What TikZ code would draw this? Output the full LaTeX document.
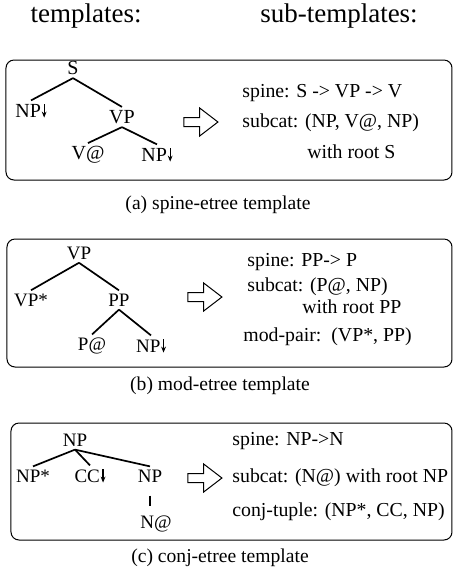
\documentclass[tikz,border=0pt]{standalone}
\usepackage{fontspec}
\setmainfont{Liberation Serif}
\usepackage{tikz}
\usetikzlibrary{arrows.meta, positioning, shapes, shapes.arrows, calc}

\newcommand{\substarr}{\kern0.4pt\tikz[baseline=0pt]\draw[line width=0.6pt,
  -{Stealth[length=3pt, width=2.4pt]}] (0pt,6.6pt) -- (0pt,0pt);}

\begin{document}
\begin{tikzpicture}[
  x=0.5pt, y=-0.5pt,
  cat/.style={inner sep=1.5pt, font=\fontsize{9.5}{11}\selectfont},
  info/.style={anchor=west, inner sep=0pt, font=\fontsize{9.9}{12}\selectfont},
  capt/.style={font=\fontsize{9.8}{12}\selectfont},
  heading/.style={font=\fontsize{13.5}{16}\selectfont},
  panel/.style={draw, rounded corners=4pt, line width=0.5pt},
  branch/.style={line width=0.85pt},
  fatarr/.style={single arrow, draw, line width=0.5pt, inner sep=2pt,
                 minimum height=17pt, single arrow head extend=4.75pt,
                 single arrow tip angle=75},
]

%% Frame
\useasboundingbox (0,0) rectangle (454,570);

%% Headings
\node[heading] (H1) at (86,16)  {templates:};
\node[heading] (H2) at (339,16) {sub-templates:};

%% (a) spine-etree
\draw[panel] (6,60) rectangle (452,180);
\node[cat, font=\fontsize{10}{12}\selectfont] (S)   at (73,68)   {S};
\node[cat, font=\fontsize{10}{12}\selectfont] (NPa) at (31,111)  {NP\substarr};
\node[cat, font=\fontsize{10}{12}\selectfont] (VPa) at (122,117) {VP};
\node[cat, font=\fontsize{10}{12}\selectfont] (Va)  at (88,155)  {V@};
\node[cat, font=\fontsize{10}{12}\selectfont] (NPb) at (157,155) {NP\substarr};
\draw[branch] (S.south) -- (NPa.north);
\draw[branch] (S.south) -- (VPa.north);
\draw[branch] (VPa.south) -- (Va.north);
\draw[branch] (VPa.south) -- (NPb.north);
\node[fatarr] (A1) at (198,122) {};
\node[info] (a1) at (242,93)  {spine: S -> VP -> V};
\node[info] (a2) at (242,123) {subcat: (NP, V@, NP)};
\node[info] (a3) at (307,152) {with root S};
\node[capt] (Ca) at (218,205) {(a) spine-etree template};

%% (b) mod-etree
\draw[panel] (7,239) rectangle (452,367);
\node[cat] (VPb) at (79,253)  {VP};
\node[cat] (VPs) at (31,300)  {VP*};
\node[cat] (PP)  at (119,300) {PP};
\node[cat] (Pat) at (92,346)  {P@};
\node[cat] (NPc) at (151,346) {NP\substarr};
\draw[branch] (VPb.south) -- (VPs.north);
\draw[branch] (VPb.south) -- (PP.north);
\draw[branch] (PP.south) -- (Pat.north);
\draw[branch] (PP.south) -- (NPc.north);
\node[fatarr] (A2) at (202,297) {};
\node[info] (b1) at (247,262) {spine: PP-> P};
\node[info] (b2) at (247,287) {subcat: (P@, NP)};
\node[info] (b3) at (302,307) {with root PP};
\node[info] (b4) at (243,337) {mod-pair:\ \ (VP*, PP)};
\node[capt] (Cb) at (220,386) {(b) mod-etree template};

%% (c) conj-etree
\draw[panel] (11,423) rectangle (452,540);
\node[cat] (NPd) at (75,440)  {NP};
\node[cat] (NPs) at (33,476)  {NP*};
\node[cat] (CC)  at (90,476)  {CC\substarr};
\node[cat] (NPe) at (150,476) {NP};
\node[cat] (Nat) at (156,524) {N@};
\draw[branch] (NPd.south) -- (NPs.north);
\draw[branch] (NPd.south) -- (CC.north);
\draw[branch] (NPd.south) -- (NPe.north);
\draw[branch, shorten <=5pt, shorten >=3pt] (NPe.south) -- (NPe.south |- Nat.north);
\node[fatarr] (A3) at (202,478) {};
\node[info] (c1) at (232,441) {spine: NP->N};
\node[info] (c2) at (232,478) {subcat: (N@) with root NP};
\node[info] (c3) at (232,512) {conj-tuple: (NP*, CC, NP)};
\node[capt] (Cc) at (220,558) {(c) conj-etree template};

\end{tikzpicture}
\end{document}
